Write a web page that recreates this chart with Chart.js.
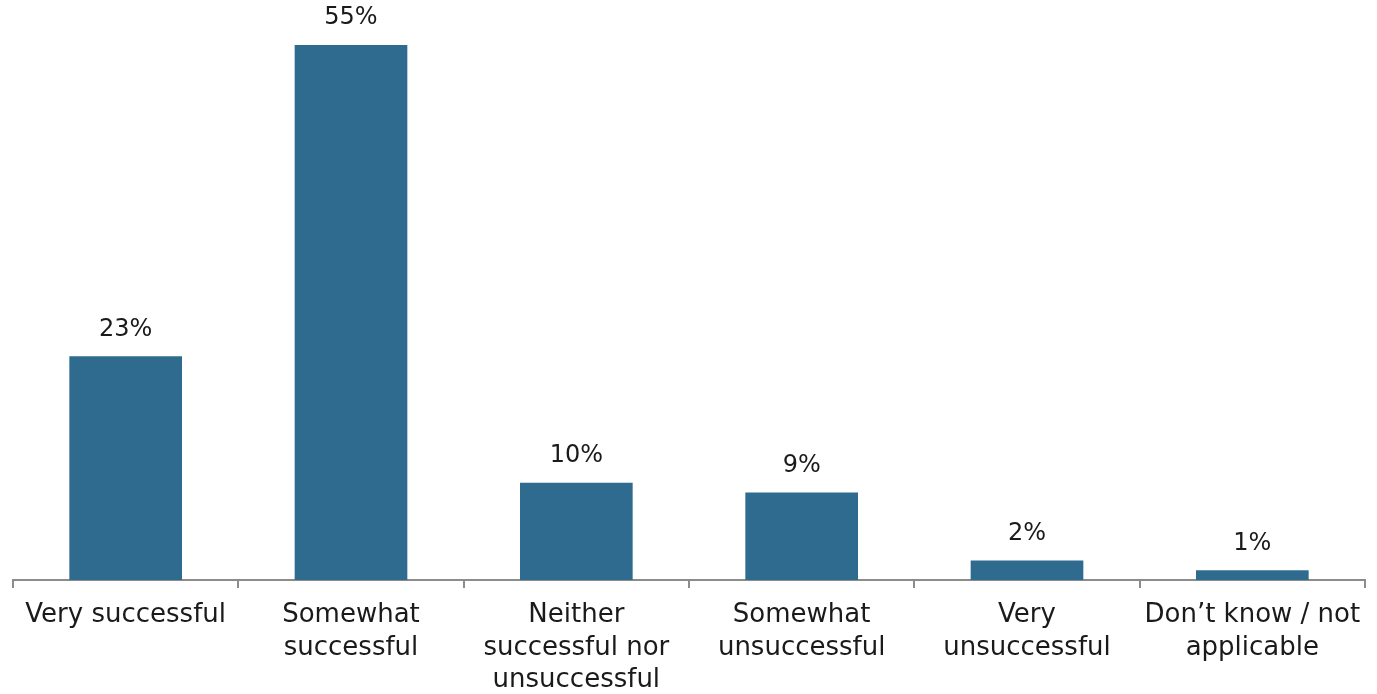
<!DOCTYPE html>
<html>
<head>
<meta charset="utf-8">
<script src="https://cdn.jsdelivr.net/npm/chart.js@4"></script>
<style>
  html, body { margin: 0; padding: 0; background: #fff; }
  #wrap { width: 1377px; height: 694px; }
</style>
</head>
<body>
<div id="wrap"><canvas id="chart"></canvas></div>
<script>
const categories = [
    ['Very successful'],
    ['Somewhat', 'successful'],
    ['Neither', 'successful nor', 'unsuccessful'],
    ['Somewhat', 'unsuccessful'],
    ['Very', 'unsuccessful'],
    ['Don\u2019t know / not', 'applicable']
];
const values = [23, 55, 10, 9, 2, 1];

const FONT = '"DejaVu Sans", sans-serif';

// draws the % labels above each bar
const barLabels = {
    id: 'barLabels',
    afterDatasetsDraw(chart) {
        const ctx = chart.ctx;
        const meta = chart.getDatasetMeta(0);
        ctx.save();
        ctx.font = '24px ' + FONT;
        ctx.fillStyle = '#1a1a1a';
        ctx.textAlign = 'center';
        ctx.textBaseline = 'middle';
        meta.data.forEach((bar, i) => {
            ctx.fillText(values[i] + '%', bar.x, bar.y - 27);
        });
        ctx.restore();
    }
};

new Chart(document.getElementById('chart'), {
    type: 'bar',
    data: {
        labels: categories,
        datasets: [{
            data: values,
            backgroundColor: '#2f6b8f',
            barPercentage: 0.5,
            categoryPercentage: 1
        }]
    },
    options: {
        responsive: true,
        maintainAspectRatio: false,
        animation: false,
        layout: { padding: { left: 13, right: 12, top: 0, bottom: 0 } },
        plugins: { legend: { display: false }, tooltip: { enabled: false } },
        scales: {
            x: {
                offset: true,
                afterFit(scale) { scale.height = 114; },
                grid: { offset: true, drawOnChartArea: false, drawTicks: true, tickLength: 8, color: '#8c8c8c', lineWidth: 2 },
                border: { display: true, color: '#8c8c8c', width: 2 },
                ticks: {
                    color: '#1a1a1a',
                    font: { family: FONT, size: 26, lineHeight: 1.25 },
                    padding: 11,
                    maxRotation: 0,
                    autoSkip: false
                }
            },
            y: {
                display: false,
                min: 0,
                max: 59.63
            }
        }
    },
    plugins: [barLabels]
});
</script>
</body>
</html>
